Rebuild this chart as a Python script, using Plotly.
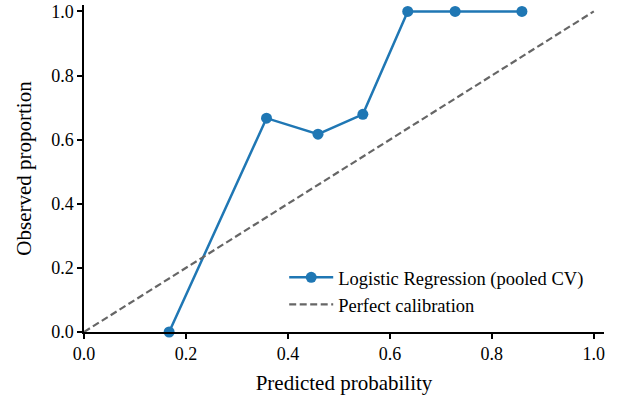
import plotly.graph_objects as go

mean_predicted = [0.167, 0.358, 0.459, 0.547, 0.635, 0.728, 0.859]
observed = [0.0, 0.667, 0.617, 0.679, 1.0, 1.0, 1.0]
diag = [0.0, 1.0]
tick_vals = [0.0, 0.2, 0.4, 0.6, 0.8, 1.0]
tick_text = ["0.0", "0.2", "0.4", "0.6", "0.8", "1.0"]

fig = go.Figure()
fig.add_trace(go.Scatter(
    x=mean_predicted, y=observed, mode="lines+markers",
    name="Logistic Regression (pooled CV)",
    line=dict(color="#1f77b4", width=2.5),
    marker=dict(color="#1f77b4", size=11),
    cliponaxis=False,
))
fig.add_trace(go.Scatter(
    x=diag, y=diag, mode="lines", name="Perfect calibration",
    line=dict(color="#666666", width=2.2, dash="7px,3.5px"),
))

font = "Liberation Serif, Times New Roman, serif"
axis_common = dict(
    showgrid=False, zeroline=False, showline=True, linecolor="black", linewidth=1.5,
    ticks="outside", ticklen=5, tickwidth=1.5, tickcolor="black",
    tickvals=tick_vals, ticktext=tick_text, automargin=False,
    tickfont=dict(family=font, size=18, color="black"),
)
fig.update_layout(
    width=628, height=402,
    margin=dict(l=84, r=24, t=5, b=70),
    plot_bgcolor="white", paper_bgcolor="white",
    font=dict(family=font, color="black"),
    xaxis=dict(range=[0, 1.02], title=dict(text="Predicted probability", font=dict(family=font, size=21), standoff=12), **axis_common),
    yaxis=dict(range=[0, 1.02], title=dict(text="Observed proportion", font=dict(family=font, size=21), standoff=14), **axis_common),
    showlegend=True,
    legend=dict(x=0.385, y=0.025, xanchor="left", yanchor="bottom",
                font=dict(family=font, size=18.5, color="black"),
                bgcolor="rgba(255,255,255,0.8)", tracegroupgap=0, itemwidth=44),
)
fig.write_html("out.html", config={"displayModeBar": False},
               post_script="document.body.style.margin='0';")
